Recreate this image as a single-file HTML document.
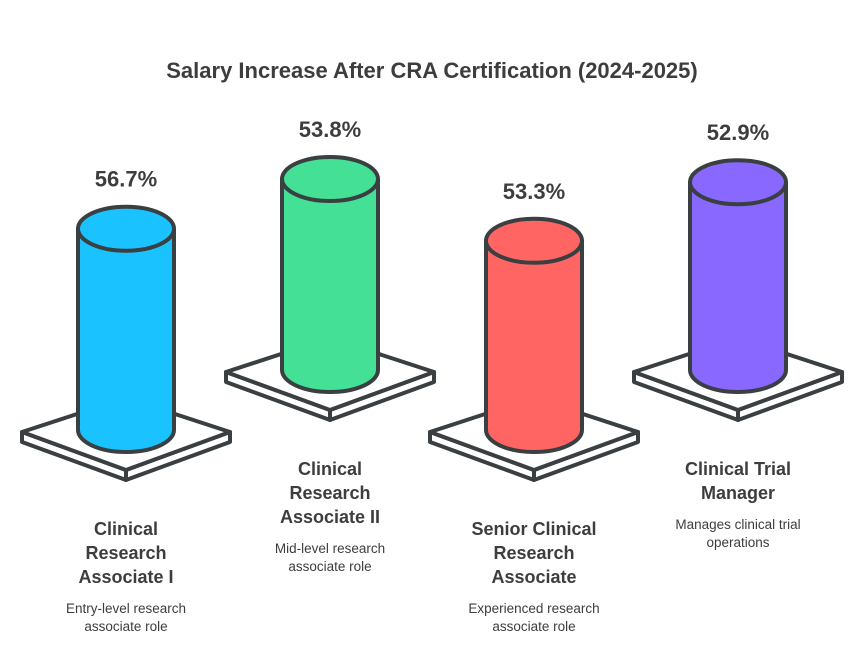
<!DOCTYPE html>
<html><head><meta charset="utf-8">
<style>
html,body{margin:0;padding:0;background:#fff;}
svg{display:block;}
text{font-family:"Liberation Sans",sans-serif;fill:#3d3d3d;}
.t{font-weight:bold;font-size:22px;}
.v{font-weight:bold;font-size:22px;}
.l{font-weight:bold;font-size:18px;}
.d{font-size:13.5px;}
</style></head>
<body>
<svg id="chart" width="864" height="645" viewBox="0 0 864 645">
<text class="t" x="432" y="78" text-anchor="middle">Salary Increase After CRA Certification (2024-2025)</text>
<g id="marks"></g>
</svg>
<script>
const categories=[["Clinical","Research","Associate I"],["Clinical","Research","Associate II"],["Senior Clinical","Research","Associate"],["Clinical Trial","Manager"]];
const descriptions=[["Entry-level research","associate role"],["Mid-level research","associate role"],["Experienced research","associate role"],["Manages clinical trial","operations"]];
const values=[56.7,53.8,53.3,52.9];
const valueLabels=["56.7%","53.8%","53.3%","52.9%"];
const colors=["#1ac3ff","#43e096","#ff6663","#8868ff"];

const NS="http://www.w3.org/2000/svg";
const g=document.getElementById('marks');
const centers=[126,330,534,738];
const baseY=[430,370,430,370];
const scale=3.55, rx=48, ry=22, stroke="#3a3f42";
function yScale(v){return v*scale;}
function mk(tag,attrs){const e=document.createElementNS(NS,tag);for(const k in attrs)e.setAttribute(k,attrs[k]);g.appendChild(e);return e;}
values.forEach((v,i)=>{
  const cx=centers[i], by=baseY[i], ty=by-yScale(v);
  const py=by+2;
  let p=mk('polygon',{points:`${cx-104},${py} ${cx},${py+38} ${cx},${py+48} ${cx-104},${py+10}`,fill:"#fff",stroke:stroke,'stroke-width':4,'stroke-linejoin':'round'});
  
  
  p=mk('polygon',{points:`${cx+104},${py} ${cx},${py+38} ${cx},${py+48} ${cx+104},${py+10}`,fill:"#fff",stroke:stroke,'stroke-width':4,'stroke-linejoin':'round'});
  
  
  p=mk('polygon',{points:`${cx-104},${py} ${cx},${py-34} ${cx+104},${py} ${cx},${py+38}`,fill:"#fff",stroke:stroke,'stroke-width':4,'stroke-linejoin':'round'});
  
  
  const body=mk('path',{d:`M${cx-rx},${ty} L${cx-rx},${by} A${rx},${ry} 0 0 0 ${cx+rx},${by} L${cx+rx},${ty} Z`,fill:colors[i],stroke:stroke,'stroke-width':4,'stroke-linejoin':'round'});
  
  
  const top=mk('ellipse',{cx:cx,cy:ty,rx:rx,ry:ry,fill:colors[i],stroke:stroke,'stroke-width':4});
  
  
  const vl=mk('text',{x:cx,y:ty-ry-20,'text-anchor':'middle',class:'v'});
  vl.textContent=valueLabels[i];
  
  
  const startY=(i%2===0)?535:475;
  categories[i].forEach((line,j)=>{
    const t=mk('text',{x:cx,y:startY+j*24,'text-anchor':'middle',class:'l'});
    t.textContent=line;
    
    
  });
  const dy=startY+(categories[i].length-1)*24+30;
  descriptions[i].forEach((line,j)=>{
    const t=mk('text',{x:cx,y:dy+j*18,'text-anchor':'middle',class:'d'});
    t.textContent=line;
    
    
  });
});
</script>
</body></html>
